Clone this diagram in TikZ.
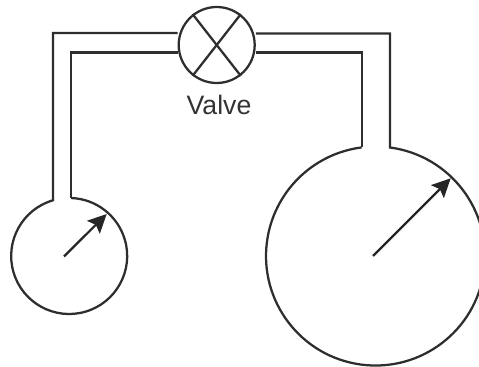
\documentclass[tikz,border=0pt]{standalone}
\usepackage{fontspec}
\setmainfont{Liberation Sans}
\usetikzlibrary{arrows.meta}
\tikzset{
  pipe/.style={line width=1.7pt,draw=black!82,line join=miter},
  dial/.style={line width=1.7pt,draw=black!82},
  needle/.style={line width=1.7pt,draw=black!85,-{Stealth[length=14pt,width=13.5pt,inset=2.5pt]}},
  lab/.style={font=\fontsize{20pt}{24pt}\selectfont,text=black!80,inner sep=0pt}
}
\begin{document}
\begin{tikzpicture}[x=0.75pt,y=-0.75pt]
\useasboundingbox (0,0) rectangle (479,367);
\coordinate (vc) at (216.7,45);
\node[circle,minimum size=57pt,inner sep=0pt,dial] (valve) at (vc) {};
\draw[dial] (valve.52) -- (valve.-128);
\draw[dial] (valve.128) -- (valve.-52);
\node[lab] (vlabel) at (219,104.5) {Valve};
% left gauge
\coordinate (a2) at (53,33); \coordinate (a3) at (53,200.3);
\coordinate (b2) at (71,52.5); \coordinate (b3) at (71,198);
\draw[pipe] (valve.west |- a2) -- (a2) -- (a3) arc[start angle=-106.2,end angle=-448,radius=58];
\draw[pipe] (valve.west |- b2) -- (b2) -- (b3);
\coordinate (sn1) at (64,256.5); \coordinate (sn2) at (106.7,214);
\draw[needle] (sn1) -- (sn2);
% right gauge
\coordinate (c2) at (390,33.5); \coordinate (c3) at (390,147.5);
\coordinate (d2) at (361.7,52.5); \coordinate (d3) at (361.7,147.5);
\draw[pipe] (valve.east |- c2) -- (c2) -- (c3) arc[start angle=-82.4,end angle=262.7,radius=109.5];
\draw[pipe] (valve.east |- d2) -- (d2) -- (d3);
\coordinate (bn1) at (373,256); \coordinate (bn2) at (450.7,178.3);
\draw[needle] (bn1) -- (bn2);
\end{tikzpicture}
\end{document}
